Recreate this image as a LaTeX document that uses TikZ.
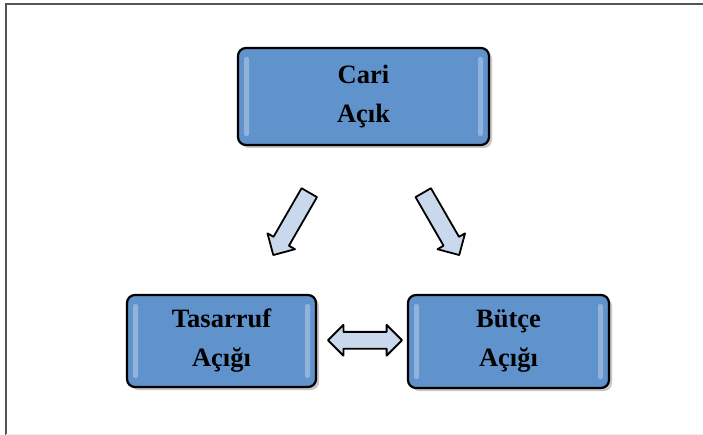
\documentclass[tikz,border=0pt]{standalone}
\usepackage{fontspec}
\setmainfont{Liberation Serif}
\usetikzlibrary{shapes.arrows,shadows,calc}

\definecolor{boxblue}{RGB}{96,146,204}
\definecolor{boxtop}{RGB}{155,192,232}
\definecolor{arrowfill}{RGB}{201,216,236}
\definecolor{framegray}{RGB}{85,85,85}

\pgfdeclareverticalshading{boxshade}{100bp}
{color(0bp)=(boxblue); color(75bp)=(boxblue); color(93bp)=(boxtop); color(100bp)=(boxtop)}

\tikzset{
    deficitbox/.style={draw=black, line width=2.2pt, rounded corners=8pt,
        shading=boxshade, drop shadow={shadow xshift=3pt, shadow yshift=-3pt,
        fill=black, opacity=0.22},
        align=center, font=\bfseries\fontsize{26.5}{39}\selectfont,
        path picture={
            \fill[white, opacity=0.3, rounded corners=2pt]
                ($(path picture bounding box.north west)+(6pt,-9pt)$) rectangle
                ($(path picture bounding box.south west)+(11pt,9pt)$);
            \fill[white, opacity=0.3, rounded corners=2pt]
                ($(path picture bounding box.north east)+(-6pt,-9pt)$) rectangle
                ($(path picture bounding box.south east)+(-11pt,9pt)$);
        }},
    blockarrow/.style={draw=black, line width=1.8pt, fill=arrowfill,
        inner xsep=0pt, line join=round}
}

\begin{document}
\begin{tikzpicture}[x=1pt, y=-1pt]
    \useasboundingbox (0,0) rectangle (703,435);

    %draws frame
    \draw[framegray, line width=1.6pt] (6,435) -- (6,4) -- (703,4);
    \draw[black!7] (6,434) -- (703,434);

    %draws boxes
    \node[deficitbox, minimum width=251pt, minimum height=97pt] (cari)
        at (363.5,96.5) {Cari\\Açık};
    \node[deficitbox, minimum width=189pt, minimum height=92pt] (tasarruf)
        at (221.5,341) {Tasarruf\\Açığı};
    \node[deficitbox, minimum width=201pt, minimum height=93pt] (butce)
        at (508.5,341.5) {Bütçe\\Açığı};

    %draws arrows
    \node[blockarrow, single arrow, rotate=-120, minimum height=72pt,
        inner ysep=8pt, single arrow head extend=7pt] (leftarr)
        at ($(cari.south)!0.5!(tasarruf.north)+(1,0)$) {};
    \node[blockarrow, single arrow, rotate=-60, minimum height=72pt,
        inner ysep=8pt, single arrow head extend=7pt] (rightarr)
        at ($(cari.south)!0.5!(butce.north)+(3,0)$) {};
    \node[blockarrow, double arrow, minimum height=74pt,
        inner ysep=7.5pt, double arrow head extend=7pt] (twoway)
        at ($(tasarruf.east)!0.5!(butce.west)+(3,-1)$) {};

\end{tikzpicture}
\end{document}
